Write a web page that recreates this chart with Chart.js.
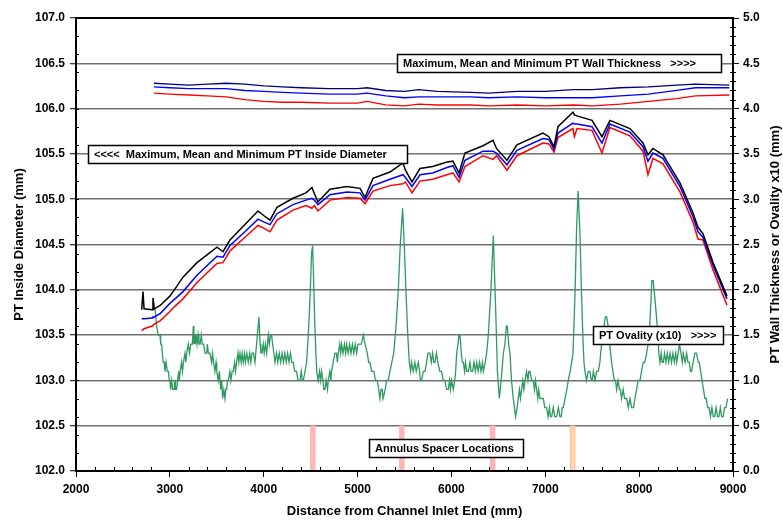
<!DOCTYPE html>
<html>
<head>
<meta charset="utf-8">
<script src="https://cdn.jsdelivr.net/npm/chart.js@4"></script>
<style>
  body { margin: 0; background: #fff; }
  #wrap { width: 783px; height: 520px; }
</style>
</head>
<body>
<div id="wrap"><canvas id="myChart" width="783" height="520"></canvas></div>
<script>
// PT inside diameter (left axis, mm)
const idDist = [2700, 2714, 2725, 2810, 2820, 2835, 2900, 3000, 3055, 3140, 3289, 3502, 3566, 3641, 3800, 3939, 4000, 4067, 4141, 4312, 4450, 4514, 4540, 4578, 4706, 4887, 5026, 5079, 5164, 5345, 5484, 5510, 5580, 5665, 5800, 5953, 6016, 6081, 6144, 6336, 6443, 6480, 6592, 6698, 6975, 7039, 7093, 7135, 7295, 7310, 7338, 7498, 7604, 7689, 7902, 8041, 8094, 8147, 8254, 8435, 8573, 8627, 8680, 8787, 8936];
const idMax = [103.78, 103.98, 103.79, 103.78, 103.91, 103.79, 103.83, 103.93, 104.01, 104.14, 104.30, 104.47, 104.42, 104.55, 104.72, 104.87, 104.82, 104.77, 104.91, 105.01, 105.07, 105.13, 105.06, 104.97, 105.11, 105.14, 105.12, 105.02, 105.23, 105.30, 105.40, 105.32, 105.19, 105.34, 105.36, 105.41, 105.42, 105.29, 105.51, 105.59, 105.65, 105.56, 105.43, 105.60, 105.73, 105.69, 105.58, 105.80, 105.96, 105.93, 105.92, 105.87, 105.69, 105.87, 105.78, 105.62, 105.49, 105.56, 105.49, 105.18, 104.85, 104.69, 104.62, 104.30, 103.93];
const idMean = [103.68, 103.68, 103.68, 103.69, 103.70, 103.70, 103.74, 103.85, 103.90, 103.98, 104.16, 104.37, 104.36, 104.49, 104.64, 104.78, 104.75, 104.72, 104.84, 104.94, 104.99, 105.01, 104.99, 104.94, 105.05, 105.08, 105.07, 104.99, 105.15, 105.22, 105.27, 105.24, 105.14, 105.27, 105.29, 105.35, 105.37, 105.24, 105.43, 105.53, 105.53, 105.51, 105.38, 105.54, 105.67, 105.66, 105.55, 105.73, 105.84, 105.83, 105.83, 105.80, 105.62, 105.83, 105.74, 105.58, 105.42, 105.51, 105.45, 105.14, 104.81, 104.64, 104.58, 104.27, 103.90];
const idMin = [103.55, 103.56, 103.57, 103.60, 103.61, 103.62, 103.66, 103.76, 103.82, 103.90, 104.08, 104.29, 104.30, 104.43, 104.58, 104.71, 104.68, 104.64, 104.77, 104.88, 104.93, 104.90, 104.93, 104.87, 104.99, 105.02, 105.01, 104.95, 105.09, 105.15, 105.17, 105.19, 105.07, 105.20, 105.22, 105.27, 105.29, 105.19, 105.36, 105.48, 105.44, 105.48, 105.32, 105.48, 105.62, 105.61, 105.52, 105.68, 105.78, 105.69, 105.78, 105.76, 105.51, 105.79, 105.70, 105.53, 105.27, 105.45, 105.39, 105.08, 104.75, 104.56, 104.55, 104.22, 103.83];

// PT wall thickness (right axis, mm)
const wallDist = [2830, 3000, 3200, 3400, 3600, 3800, 4000, 4200, 4400, 4700, 5000, 5100, 5300, 5500, 5650, 5850, 6200, 6400, 6700, 7000, 7300, 7500, 7800, 8100, 8400, 8600, 8960];
const wallMax = [4.28, 4.27, 4.26, 4.27, 4.28, 4.27, 4.25, 4.24, 4.23, 4.22, 4.22, 4.23, 4.20, 4.19, 4.21, 4.19, 4.18, 4.17, 4.19, 4.19, 4.21, 4.21, 4.23, 4.24, 4.26, 4.27, 4.26];
const wallMean = [4.24, 4.23, 4.22, 4.22, 4.22, 4.20, 4.19, 4.18, 4.17, 4.16, 4.16, 4.17, 4.14, 4.12, 4.13, 4.13, 4.13, 4.12, 4.13, 4.12, 4.12, 4.12, 4.14, 4.16, 4.20, 4.23, 4.23];
const wallMin = [4.17, 4.16, 4.15, 4.14, 4.13, 4.10, 4.08, 4.07, 4.07, 4.06, 4.06, 4.08, 4.04, 4.03, 4.05, 4.04, 4.04, 4.03, 4.04, 4.03, 4.04, 4.03, 4.05, 4.08, 4.11, 4.14, 4.15];

// PT ovality x10 (right axis)
const ovalDist = [2841, 2859, 2877, 2895, 2902, 2912, 2920, 2930, 2940, 2948, 2960, 2973, 2985, 2994, 3002, 3008, 3020, 3030, 3045, 3055, 3060, 3072, 3083, 3095, 3101, 3110, 3125, 3135, 3145, 3161, 3170, 3180, 3196, 3210, 3222, 3240, 3250, 3256, 3265, 3272, 3280, 3290, 3300, 3310, 3322, 3335, 3345, 3360, 3374, 3392, 3400, 3410, 3427, 3445, 3455, 3465, 3480, 3492, 3500, 3516, 3528, 3541, 3552, 3562, 3575, 3587, 3596, 3605, 3615, 3623, 3640, 3650, 3664, 3676, 3690, 3700, 3711, 3725, 3735, 3747, 3760, 3770, 3782, 3795, 3805, 3820, 3835, 3850, 3862, 3875, 3890, 3907, 3924, 3949, 3962, 3971, 3982, 3995, 4005, 4018, 4031, 4040, 4049, 4060, 4072, 4084, 4095, 4109, 4120, 4137, 4150, 4165, 4180, 4195, 4210, 4225, 4240, 4255, 4270, 4285, 4300, 4315, 4330, 4350, 4365, 4386, 4400, 4410, 4422, 4440, 4457, 4475, 4493, 4510, 4521, 4532, 4545, 4556, 4565, 4580, 4595, 4605, 4617, 4630, 4640, 4652, 4665, 4680, 4688, 4705, 4715, 4723, 4740, 4759, 4775, 4785, 4794, 4810, 4820, 4830, 4845, 4860, 4873, 4883, 4900, 4915, 4930, 4945, 4960, 4975, 4990, 5005, 5025, 5040, 5061, 5080, 5103, 5118, 5132, 5150, 5174, 5190, 5210, 5225, 5238, 5250, 5263, 5272, 5281, 5295, 5309, 5325, 5345, 5365, 5385, 5410, 5434, 5455, 5480, 5497, 5515, 5535, 5551, 5565, 5575, 5593, 5610, 5625, 5647, 5660, 5670, 5682, 5700, 5718, 5735, 5750, 5771, 5785, 5800, 5812, 5824, 5840, 5855, 5877, 5895, 5913, 5930, 5948, 5967, 5980, 5990, 6002, 6020, 6035, 6045, 6056, 6070, 6080, 6091, 6105, 6117, 6127, 6140, 6150, 6162, 6180, 6198, 6210, 6225, 6240, 6255, 6270, 6285, 6300, 6315, 6330, 6340, 6360, 6375, 6393, 6421, 6446, 6471, 6490, 6510, 6530, 6553, 6570, 6585, 6595, 6610, 6624, 6640, 6659, 6672, 6684, 6700, 6712, 6725, 6735, 6748, 6760, 6772, 6784, 6800, 6815, 6825, 6837, 6855, 6872, 6885, 6895, 6908, 6920, 6930, 6943, 6960, 6979, 6995, 7014, 7030, 7045, 7055, 7068, 7085, 7100, 7121, 7140, 7156, 7170, 7180, 7192, 7210, 7230, 7245, 7265, 7281, 7295, 7305, 7318, 7334, 7350, 7370, 7385, 7400, 7412, 7423, 7440, 7458, 7475, 7490, 7500, 7512, 7530, 7547, 7565, 7582, 7590, 7610, 7625, 7640, 7654, 7670, 7685, 7707, 7720, 7735, 7748, 7760, 7775, 7790, 7800, 7813, 7830, 7845, 7855, 7867, 7885, 7902, 7920, 7940, 7955, 7973, 7990, 8010, 8025, 8044, 8060, 8080, 8095, 8108, 8122, 8136, 8150, 8168, 8185, 8200, 8210, 8222, 8235, 8245, 8257, 8270, 8285, 8300, 8315, 8330, 8345, 8360, 8375, 8390, 8400, 8415, 8430, 8445, 8460, 8470, 8490, 8506, 8520, 8535, 8547, 8559, 8575, 8594, 8612, 8630, 8642, 8655, 8670, 8685, 8701, 8715, 8730, 8745, 8760, 8775, 8790, 8805, 8820, 8835, 8850, 8865, 8879, 8896, 8910, 8925, 8942];
const ovalValue = [1.8, 1.6, 1.5, 1.5, 1.4, 1.4, 1.3, 1.2, 1.2, 1.1, 1.2, 1.1, 1.1, 1.0, 1.0, 0.9, 1.0, 0.9, 0.9, 1.0, 0.9, 0.9, 1.0, 1.1, 1.0, 1.1, 1.2, 1.1, 1.2, 1.3, 1.2, 1.3, 1.4, 1.3, 1.4, 1.4, 1.6, 1.4, 1.5, 1.4, 1.5, 1.4, 1.5, 1.4, 1.4, 1.5, 1.4, 1.4, 1.3, 1.3, 1.4, 1.3, 1.3, 1.2, 1.3, 1.2, 1.1, 1.2, 1.1, 1.0, 1.1, 0.9, 1.0, 0.8, 0.9, 0.8, 0.9, 0.9, 1.0, 1.0, 1.1, 1.0, 1.1, 1.1, 1.2, 1.1, 1.2, 1.3, 1.2, 1.3, 1.2, 1.3, 1.2, 1.3, 1.2, 1.3, 1.2, 1.3, 1.2, 1.3, 1.3, 1.2, 1.4, 1.7, 1.4, 1.3, 1.3, 1.4, 1.3, 1.4, 1.3, 1.4, 1.5, 1.4, 1.5, 1.5, 1.4, 1.3, 1.2, 1.3, 1.2, 1.3, 1.2, 1.3, 1.2, 1.3, 1.2, 1.3, 1.2, 1.3, 1.2, 1.2, 1.1, 1.1, 1.0, 1.0, 1.1, 1.0, 1.0, 1.1, 1.2, 1.5, 1.9, 2.4, 2.49, 2.1, 1.6, 1.3, 1.1, 1.0, 1.1, 1.0, 1.1, 1.0, 0.9, 0.9, 1.0, 0.9, 1.0, 1.1, 1.0, 1.1, 1.2, 1.3, 1.3, 1.2, 1.3, 1.4, 1.3, 1.4, 1.3, 1.4, 1.3, 1.4, 1.3, 1.4, 1.3, 1.4, 1.3, 1.4, 1.3, 1.4, 1.4, 1.4, 1.5, 1.4, 1.3, 1.2, 1.2, 1.1, 1.1, 1.0, 1.0, 0.9, 0.8, 0.9, 0.9, 0.8, 0.8, 0.9, 1.0, 1.0, 1.1, 1.2, 1.3, 1.6, 2.0, 2.5, 2.9, 2.5, 2.0, 1.5, 1.2, 1.1, 1.2, 1.1, 1.2, 1.1, 1.2, 1.1, 1.0, 1.0, 1.1, 1.1, 1.2, 1.3, 1.3, 1.2, 1.3, 1.2, 1.2, 1.3, 1.2, 1.1, 1.1, 1.0, 1.0, 0.9, 0.9, 1.0, 0.9, 1.0, 0.9, 1.0, 1.1, 1.3, 1.4, 1.5, 1.5, 1.3, 1.2, 1.2, 1.1, 1.2, 1.1, 1.1, 1.2, 1.1, 1.1, 1.2, 1.1, 1.2, 1.1, 1.2, 1.1, 1.2, 1.1, 1.2, 1.3, 1.5, 2.0, 2.6, 1.8, 1.1, 0.8, 1.0, 1.3, 1.4, 1.6, 1.6, 1.4, 1.3, 1.0, 0.8, 0.7, 0.6, 0.7, 0.8, 0.9, 0.8, 0.9, 1.0, 0.9, 1.0, 1.1, 1.0, 1.1, 1.1, 1.0, 1.0, 0.9, 1.0, 0.9, 0.8, 0.9, 0.8, 0.8, 0.8, 0.7, 0.7, 0.6, 0.7, 0.6, 0.6, 0.7, 0.6, 0.6, 0.7, 0.6, 0.6, 0.7, 0.7, 0.8, 0.9, 1.0, 1.1, 1.2, 1.3, 1.6, 2.0, 2.7, 3.09, 2.6, 2.0, 1.5, 1.2, 1.1, 1.0, 1.1, 1.1, 1.0, 1.0, 1.1, 1.0, 1.1, 1.1, 1.2, 1.3, 1.5, 1.6, 1.7, 1.7, 1.6, 1.4, 1.2, 1.1, 1.0, 1.0, 0.9, 1.0, 0.9, 0.9, 0.8, 0.9, 0.8, 0.8, 0.8, 0.7, 0.8, 0.7, 0.7, 0.8, 0.9, 1.0, 1.0, 1.1, 1.2, 1.2, 1.3, 1.4, 1.5, 1.8, 2.1, 2.1, 1.9, 1.7, 1.5, 1.3, 1.2, 1.3, 1.2, 1.2, 1.3, 1.2, 1.3, 1.2, 1.3, 1.2, 1.3, 1.2, 1.3, 1.2, 1.3, 1.4, 1.3, 1.2, 1.3, 1.2, 1.3, 1.2, 1.2, 1.1, 1.1, 1.2, 1.3, 1.3, 1.2, 1.2, 1.1, 1.0, 0.9, 0.8, 0.8, 0.7, 0.7, 0.6, 0.7, 0.6, 0.6, 0.7, 0.6, 0.6, 0.7, 0.6, 0.6, 0.7, 0.7, 0.8, 0.8, 0.9, 1.2];

// annulus spacer locations (right axis bars)
const spacerDist = [4524, 5472, 6441, 7293];
const spacerHeight = [0.5, 0.5, 0.5, 0.5];
const spacerColor = ['#ffb6b6', '#ffb6b6', '#ffb6b6', '#ffd9a0'];

const xTicks = [2000, 3000, 4000, 5000, 6000, 7000, 8000, 9000];

function pts(xs, ys) {
  return xs.map((x, i) => ({ x: x, y: ys[i] }));
}

const fontFamily = '"Liberation Sans", Arial, sans-serif';
const tickFont = { family: fontFamily, size: 12, weight: 'bold' };
const titleFont = { family: fontFamily, size: 13, weight: 'bold' };

// boxes sit on gridlines, joined to an axis by that gridline
const notes = [
  { text: 'Maximum, Mean and Minimum PT Wall Thickness   >>>>', axis: 'y2', value: 4.5, left: 397, right: 722 },
  { text: '<<<<  Maximum, Mean and Minimum PT Inside Diameter', axis: 'y', value: 105.5, left: 88, right: 408 },
  { text: 'PT Ovality (x10)   >>>>', axis: 'y2', value: 1.5, left: 593, right: 724 },
  { text: 'Annulus Spacer Locations', axis: 'y2', value: 0.25, left: 369, right: 524 }
];

const extras = {
  id: 'extras',
  afterDatasetsDraw(chart) {
    const ctx = chart.ctx;
    const a = chart.chartArea;
    const x = chart.scales.x, y = chart.scales.y, y2 = chart.scales.y2;
    ctx.save();
    // frame
    ctx.strokeStyle = '#000';
    ctx.lineWidth = 2;
    ctx.strokeRect(a.left, a.top, a.right - a.left, a.bottom - a.top);
    // minor ticks
    ctx.lineWidth = 1;
    ctx.beginPath();
    for (let v = 2200; v < 9000; v += 200) {
      if (v % 1000 === 0) continue;
      const px = Math.round(x.getPixelForValue(v)) + 0.5;
      ctx.moveTo(px, a.bottom - 4); ctx.lineTo(px, a.bottom);
    }
    for (let v = 1; v < 50; v++) {
      if (v % 5 === 0) continue;
      const py = Math.round(y2.getPixelForValue(v / 10)) + 0.5;
      ctx.moveTo(a.right - 3, py); ctx.lineTo(a.right + 3, py);
    }
    for (let v = 1; v < 25; v++) {
      const py = Math.round(y.getPixelForValue(102 + v * 0.2)) + 0.5;
      ctx.moveTo(a.left, py); ctx.lineTo(a.left + 3, py);
    }
    ctx.stroke();
    // notes
    ctx.font = 'bold 11px ' + fontFamily;
    ctx.textBaseline = 'middle';
    ctx.textAlign = 'left';
    notes.forEach(n => {
      const sc = n.axis === 'y' ? y : y2;
      const cy = Math.round(sc.getPixelForValue(n.value));
      const top = cy - 9, h = 19;
      ctx.fillStyle = '#fff';
      ctx.fillRect(n.left, top, n.right - n.left, h);
      ctx.lineWidth = 1.5;
      ctx.strokeStyle = '#000';
      ctx.strokeRect(n.left + 0.5, top + 0.5, n.right - n.left - 1, h - 1);
      ctx.fillStyle = '#000';
      ctx.fillText(n.text, n.left + 6, cy + 1);
    });
    // right axis title, reading upwards
    ctx.translate(775, (a.top + a.bottom) / 2);
    ctx.rotate(-Math.PI / 2);
    ctx.textAlign = 'center';
    ctx.font = 'bold 13px ' + fontFamily;
    ctx.fillText('PT Wall Thickness or Ovality x10 (mm)', 0, 0);
    ctx.restore();
  }
};

const lineSet = (label, xs, ys, color, width, axis) => ({
  type: 'line', label: label, data: pts(xs, ys), borderColor: color, borderWidth: width,
  yAxisID: axis, pointRadius: 0, fill: false, tension: 0
});

const ctx = document.getElementById('myChart').getContext('2d');
const chart = new Chart(ctx, {
  type: 'line',
  data: {
    datasets: [
      lineSet('Max ID', idDist, idMax, '#000000', 1.5, 'y'),
      lineSet('Mean ID', idDist, idMean, '#0000ff', 1.5, 'y'),
      lineSet('Min ID', idDist, idMin, '#ff0000', 1.5, 'y'),
      lineSet('Max WT', wallDist, wallMax, '#000080', 1.3, 'y2'),
      lineSet('Mean WT', wallDist, wallMean, '#0000ff', 1.3, 'y2'),
      lineSet('Min WT', wallDist, wallMin, '#ff0000', 1.3, 'y2'),
      lineSet('Ovality', ovalDist, ovalValue, '#2e9a60', 1.3, 'y2'),
      {
        type: 'bar', label: 'Spacers', data: pts(spacerDist, spacerHeight), yAxisID: 'y2',
        backgroundColor: spacerColor, borderColor: '#ffb0b0', borderWidth: 1, barThickness: 5
      }
    ]
  },
  options: {
    responsive: false,
    animation: false,
    layout: { padding: { top: 18, left: 0, right: 0, bottom: 0 } },
    plugins: { legend: { display: false }, tooltip: { enabled: false } },
    scales: {
      x: {
        type: 'linear', min: 2000, max: 9000, offset: false,
        afterBuildTicks: s => { s.ticks = xTicks.map(v => ({ value: v })); },
        afterFit: s => { s.height = 49; },
        ticks: { color: '#000', font: tickFont, padding: 5, maxRotation: 0, callback: v => String(v) },
        grid: { display: true, offset: false, drawOnChartArea: false, tickLength: 6, tickColor: '#000' },
        border: { color: '#000', width: 2 },
        title: { display: true, text: 'Distance from Channel Inlet End (mm)', color: '#000', font: titleFont, padding: { top: 0, bottom: 1 } }
      },
      y: {
        position: 'left', min: 102, max: 107,
        afterFit: s => { s.width = 76; },
        ticks: { stepSize: 0.5, color: '#000', font: tickFont, padding: 5, callback: v => v.toFixed(1) },
        grid: { color: '#707070', lineWidth: 1.5, tickLength: 6, tickColor: '#000', tickWidth: 1 },
        border: { color: '#000', width: 2 },
        title: { display: true, text: 'PT Inside Diameter (mm)', color: '#000', font: titleFont, padding: { top: 12, bottom: 0 } }
      },
      y2: {
        position: 'right', min: 0, max: 5,
        afterFit: s => { s.width = 50; },
        ticks: { stepSize: 0.5, color: '#000', font: tickFont, padding: 4, callback: v => v.toFixed(1) },
        grid: { drawOnChartArea: false, tickLength: 6, tickColor: '#000' },
        border: { color: '#000', width: 2 }
      }
    }
  },
  plugins: [extras]
});
</script>
</body>
</html>
